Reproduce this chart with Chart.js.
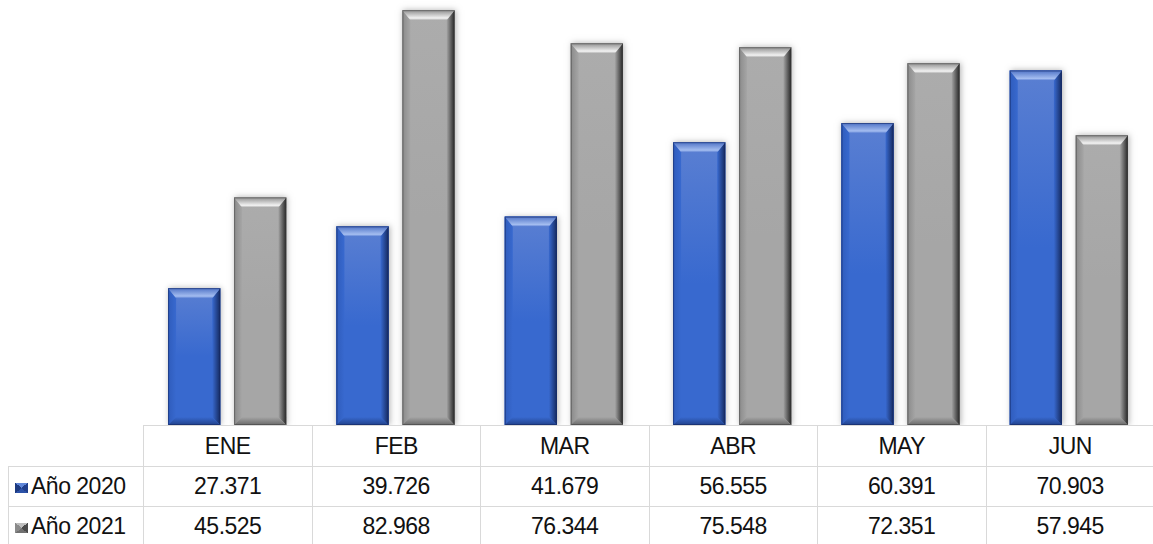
<!DOCTYPE html>
<html lang="es">
<head>
    <meta charset="UTF-8">
    <title>Año 2020 vs Año 2021</title>
    <style>
        body {
            margin: 0;
            padding: 0;
            background: #fff;
            font-family: "Liberation Sans", Arial, sans-serif;
            overflow: hidden;
        }
        .chartBox {
            position: absolute;
            left: 0;
            top: 0;
            width: 1153px;
            height: 425px;
        }
        table.datos {
            position: absolute;
            left: 8px;
            top: 425px;
            border-collapse: collapse;
            table-layout: fixed;
            width: 1146px;
            font-size: 23px;
            letter-spacing: -0.5px;
            color: #111;
        }
        table.datos td {
            border: 1px solid #d9d9d9;
            text-align: center;
            padding: 0;
            white-space: nowrap;
        }
        table.datos tr.head td { height: 40px; }
        table.datos tr.row td { height: 39px; }
        table.datos td.corner {
            border-top: none;
            border-left: none;
        }
        table.datos td.serie {
            text-align: left;
            padding-left: 6px;
        }
        .key {
            display: inline-block;
            width: 13px;
            height: 10px;
            margin-right: 3px;
            vertical-align: 1px;
        }
        .k2020 {
            background: conic-gradient(from -50deg, #5f86d8 0 100deg, #203f8c 100deg 180deg, #2c52a8 180deg 280deg, #1d3a80 280deg 360deg);
        }
        .k2021 {
            background: conic-gradient(from -50deg, #bdbdbd 0 100deg, #4a4a4a 100deg 180deg, #707070 180deg 280deg, #8a8a8a 280deg 360deg);
        }
    </style>
</head>
<body>
    <div class="chartBox">
        <canvas id="grafico"></canvas>
    </div>
    <table class="datos" id="tabla"></table>

    <script src="https://cdn.jsdelivr.net/npm/chart.js/dist/chart.umd.min.js"></script>
    <script>
        // datos
        const meses = ['ENE', 'FEB', 'MAR', 'ABR', 'MAY', 'JUN'];
        const series = ['Año 2020', 'Año 2021'];
        const anio2020 = [27371, 39726, 41679, 56555, 60391, 70903];
        const anio2021 = [45525, 82968, 76344, 75548, 72351, 57945];

        // colores del bisel para cada serie
        const paletas = [
            { base: '#3d6bcc', faceTop: '#5a7fd2', faceBot: '#3869cf', left: '#2f5cbc', right: '#15295e',
              top: '#4f73c6', topHi: '#a4bdf0', bottom: '#21428c', edge: 'rgba(20,40,100,0.6)' },
            { base: '#a8a8a8', faceTop: '#acacac', faceBot: '#a6a6a6', left: '#8a8a8a', right: '#262626',
              top: '#8e8e8e', topHi: '#f2f2f2', bottom: '#6a6a6a', edge: 'rgba(60,60,60,0.5)' }
        ];

        const fmt = v => String(v).replace(/\B(?=(\d{3})+(?!\d))/g, '.');

        function poly(ctx, pts, fill) {
            ctx.beginPath();
            ctx.moveTo(pts[0][0], pts[0][1]);
            for (let i = 1; i < pts.length; i++) ctx.lineTo(pts[i][0], pts[i][1]);
            ctx.closePath();
            ctx.fillStyle = fill;
            ctx.fill();
        }

        // dibuja el efecto bisel sobre cada barra
        const bisel = {
            id: 'bisel',
            afterDatasetsDraw(chart) {
                const ctx = chart.ctx;
                chart.data.datasets.forEach((ds, i) => {
                    const p = paletas[i];
                    chart.getDatasetMeta(i).data.forEach(bar => {
                        const l = bar.x - bar.width / 2, r = bar.x + bar.width / 2;
                        const t = bar.y, b = bar.base;
                        const d = Math.min(8, (b - t) / 3);
                        const dt = Math.min(10, (b - t) / 3);
                        ctx.save();
                        // sombra
                        ctx.shadowColor = 'rgba(0,0,0,0.3)';
                        ctx.shadowBlur = 6;
                        ctx.shadowOffsetX = 1;
                        ctx.shadowOffsetY = 0;
                        ctx.fillStyle = p.base;
                        ctx.fillRect(l, t, r - l, b - t);
                        ctx.restore();

                        let g = ctx.createLinearGradient(0, t, 0, t + (b - t) * 0.5);
                        g.addColorStop(0, p.faceTop);
                        g.addColorStop(1, p.faceBot);
                        ctx.fillStyle = g;
                        ctx.fillRect(l, t, r - l, b - t);

                        g = ctx.createLinearGradient(l, 0, l + d, 0);
                        g.addColorStop(0, p.left);
                        g.addColorStop(1, p.faceBot);
                        poly(ctx, [[l, t], [l + d, t + dt], [l + d, b - d], [l, b]], g);

                        g = ctx.createLinearGradient(r - d, 0, r, 0);
                        g.addColorStop(0, p.faceBot);
                        g.addColorStop(1, p.right);
                        poly(ctx, [[r, t], [r - d, t + dt], [r - d, b - d], [r, b]], g);

                        g = ctx.createLinearGradient(0, t, 0, t + dt);
                        g.addColorStop(0, p.top);
                        g.addColorStop(0.8, p.topHi);
                        g.addColorStop(1, p.faceTop);
                        poly(ctx, [[l, t], [r, t], [r - d, t + dt], [l + d, t + dt]], g);

                        g = ctx.createLinearGradient(0, b - d, 0, b);
                        g.addColorStop(0, p.faceBot);
                        g.addColorStop(1, p.bottom);
                        poly(ctx, [[l, b], [r, b], [r - d, b - d], [l + d, b - d]], g);

                        ctx.strokeStyle = p.edge;
                        ctx.lineWidth = 1;
                        ctx.strokeRect(l + 0.5, t + 0.5, r - l - 1, b - t - 1);
                    });
                });
            }
        };

        const config = {
            type: 'bar',
            data: {
                labels: meses,
                datasets: [
                    { label: series[0], data: anio2020, backgroundColor: paletas[0].base, borderWidth: 0 },
                    { label: series[1], data: anio2021, backgroundColor: paletas[1].base, borderWidth: 0 }
                ]
            },
            options: {
                responsive: true,
                maintainAspectRatio: false,
                animation: false,
                layout: { padding: { left: 143, right: 0, top: 0, bottom: 0 } },
                categoryPercentage: 0.784,
                barPercentage: 0.79,
                plugins: {
                    legend: { display: false },
                    tooltip: { enabled: false }
                },
                scales: {
                    x: { display: false },
                    y: { display: false, min: 0, max: 85000 }
                }
            },
            plugins: [bisel]
        };

        new Chart(document.getElementById('grafico'), config);

        // tabla de datos
        const tabla = document.getElementById('tabla');
        let html = '<colgroup><col style="width:135px">' + meses.map(() => '<col style="width:168.5px">').join('') + '</colgroup>';
        html += '<tr class="head"><td class="corner"></td>' + meses.map(m => '<td>' + m + '</td>').join('') + '</tr>';
        [anio2020, anio2021].forEach((vals, i) => {
            html += '<tr class="row"><td class="serie"><span class="key k' + series[i].slice(-4) + '"></span>' + series[i] + '</td>' +
                vals.map(v => '<td>' + fmt(v) + '</td>').join('') + '</tr>';
        });
        tabla.innerHTML = html;
    </script>
</body>
</html>
